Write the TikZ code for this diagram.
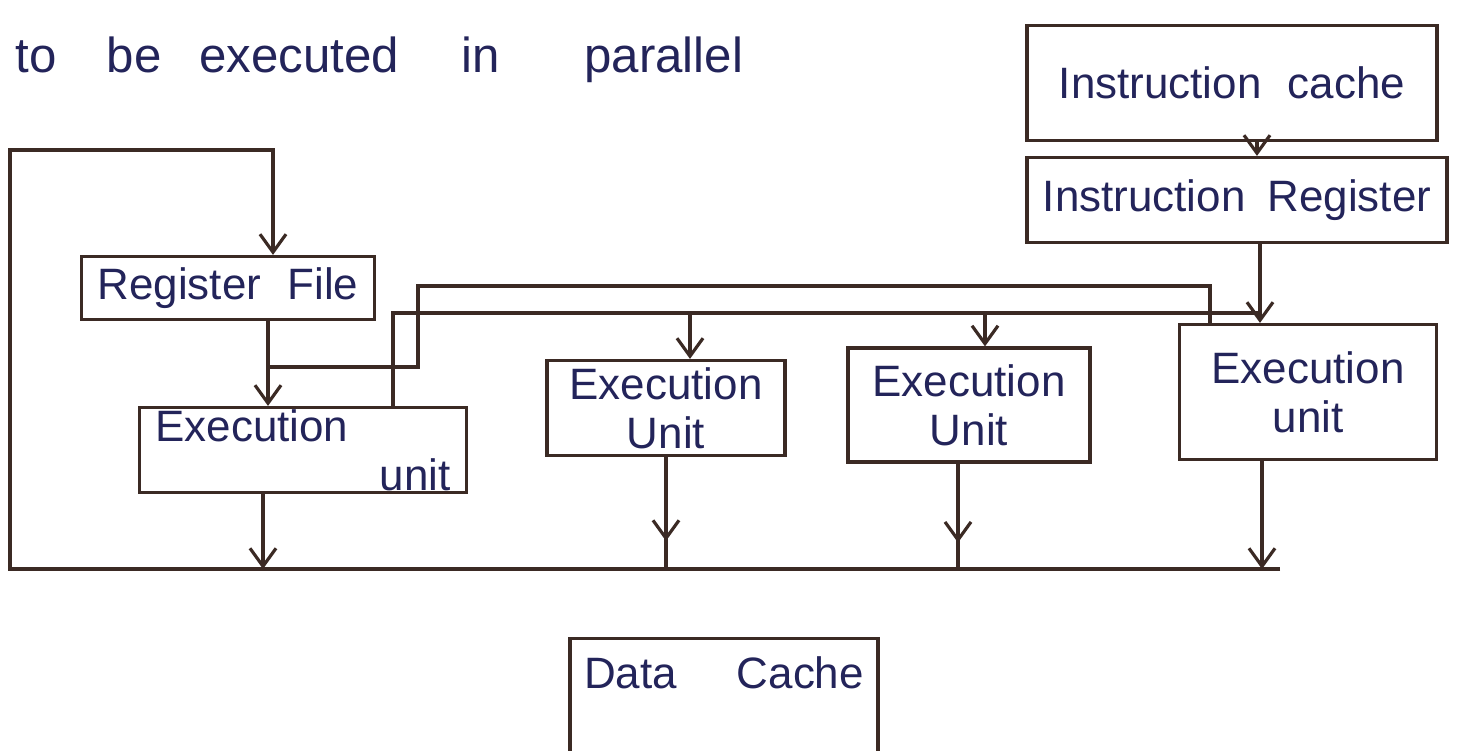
\documentclass[tikz,border=0pt]{standalone}
\usepackage{fontspec}
\setmainfont{Liberation Sans}
\usepackage{tikz}
\usetikzlibrary{positioning, arrows.meta, calc, decorations.markings}
\usepackage{xcolor}
\definecolor{inkblue}{HTML}{23245A}
\definecolor{inkline}{HTML}{3B2A24}

\begin{document}
\begin{tikzpicture}[font=\fontsize{12.5}{14}\selectfont, text=inkblue,
    box/.style={draw=inkline, line width=0.9pt, inner sep=0pt, align=center},
    wire/.style={color=inkline, line width=0.9pt},
    arr/.style={wire, -{Straight Barb[length=1.8mm, width=2.6mm]}},
    midtip/.style={wire, postaction={decorate}, decoration={markings,
        mark=at position 0.75 with {\arrow{Straight Barb[length=1.8mm, width=2.6mm]}}}}]
    \path[use as bounding box, fill=white] (0,0) rectangle (14.57,7.51);

    \node[anchor=base west, inner sep=0pt, font=\fontsize{14}{17}\selectfont] (intro) at (0.15,6.78)
          {to\hspace{0.5cm}be\hspace{0.38cm}executed\hspace{0.62cm}in\hspace{0.85cm}parallel};

    % fetch side
    \node[box, minimum width=4.10cm, minimum height=1.15cm] (icache) at (12.32,6.68) {Instruction\hspace{0.6em}cache};
    \node[box, minimum width=4.20cm, minimum height=0.85cm] (ireg) at (12.37,5.51) {Instruction\hspace{0.5em}Register};

    % register file and the four units
    \node[box, minimum width=2.93cm, minimum height=0.63cm] (regfile) at (2.28,4.63) {Register\hspace{0.6em}File};
    \node[box, minimum width=3.27cm, minimum height=0.85cm, align=left, text width=2.95cm] (eu1) at (3.03,3.01)
          {Execution\\\hspace*{\fill}unit};
    \node[box, minimum width=2.38cm, minimum height=0.95cm] (eu2) at (6.66,3.43) {Execution\\Unit};
    \node[box, minimum width=2.42cm, minimum height=1.14cm] (eu3) at (9.69,3.46) {Execution\\Unit};
    \node[box, minimum width=2.57cm, minimum height=1.35cm] (eu4) at (13.08,3.59) {Execution\\unit};

    \node[box, minimum width=3.08cm, anchor=north, inner ysep=0.18cm, text depth=1.3cm] (dcache) at (7.24,1.14)
          {Data\hspace{0.6cm}Cache};

    \coordinate (busL) at (0.10,1.82);
    \coordinate (busR) at (12.80,1.82);
    \coordinate (loopT) at (0.10,6.01);
    \coordinate (rfj) at (2.68,3.84);
    \coordinate (rfu) at (4.18,4.65);
    \coordinate (irj) at (12.60,4.38);

    \draw[arr] ([xshift=2.5mm]icache.south) -- ([xshift=2.5mm]icache.south |- ireg.north);
    \draw[arr] ([xshift=2.3mm]ireg.south) -- ([xshift=2.3mm]ireg.south |- eu4.north);

    % instruction lines to the units
    \draw[wire] (irj) -| ([xshift=9mm]eu1.north);
    \draw[arr] ([xshift=2.4mm]eu2.north |- irj) -- ([xshift=2.4mm]eu2.north);
    \draw[arr] ([xshift=1.6mm]eu3.north |- irj) -- ([xshift=1.6mm]eu3.north);

    % operands from the register file
    \draw[arr] ([xshift=4mm]regfile.south) -- ([xshift=4mm]regfile.south |- eu1.north);
    \draw[wire] (rfj) -| (rfu) -| ([xshift=-9.8mm]eu4.north);

    % results back to the register file
    \draw[arr] ([xshift=-4mm]eu1.south) -- ([xshift=-4mm]eu1.south |- busL);
    \draw[midtip] (eu2.south) -- (eu2.south |- busL);
    \draw[midtip] ([xshift=-1.1mm]eu3.south) -- ([xshift=-1.1mm]eu3.south |- busL);
    \draw[arr] ([xshift=-4.6mm]eu4.south) -- ([xshift=-4.6mm]eu4.south |- busL);
    \draw[arr] (busR) -- (busL) -- (loopT) -| ([xshift=4.5mm]regfile.north);
\end{tikzpicture}
\end{document}
